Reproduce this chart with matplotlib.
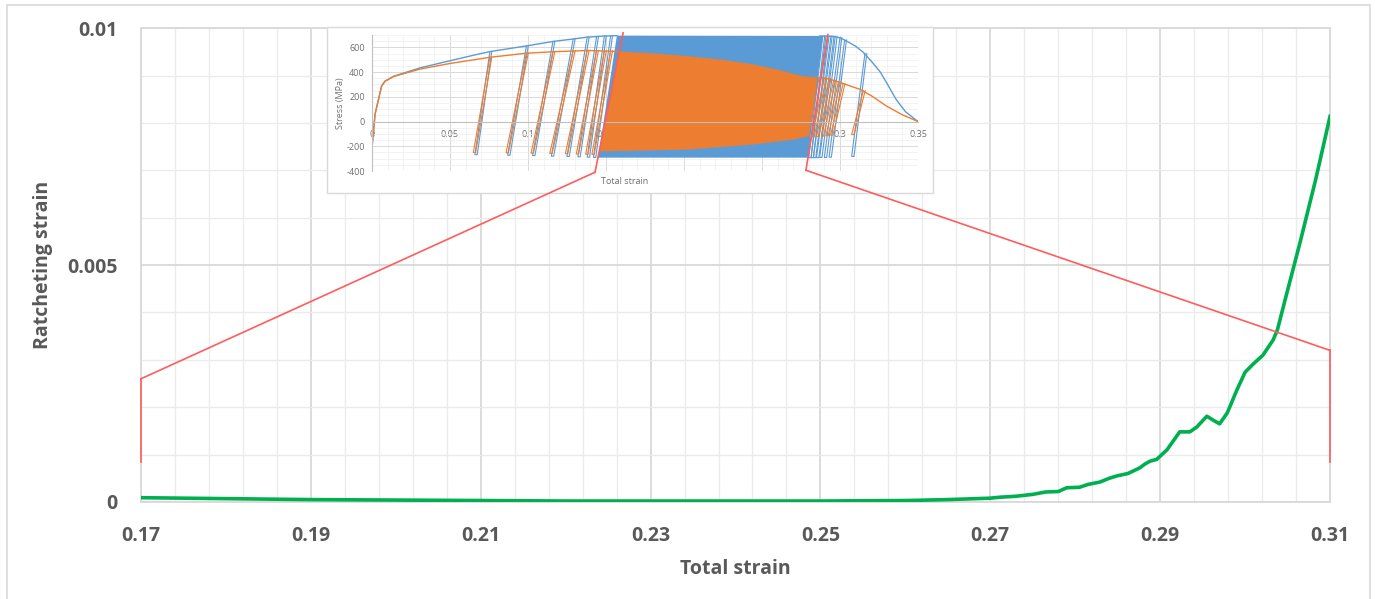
import numpy as np
import matplotlib.pyplot as plt
from matplotlib.patches import Rectangle, ConnectionPatch
from matplotlib.ticker import MultipleLocator, FuncFormatter

plt.rcParams['font.family'] = ['Open Sans', 'DejaVu Sans']

# main chart: ratcheting strain vs total strain
total_strain = [0.170, 0.180, 0.190, 0.200, 0.210, 0.220, 0.230, 0.240, 0.250,
                0.260, 0.265, 0.270, 0.2711, 0.2730, 0.2750, 0.2765, 0.2780,
                0.2790, 0.2805, 0.2815, 0.2829, 0.2840, 0.2849, 0.2862, 0.2876,
                0.2882, 0.2888, 0.2896, 0.2908, 0.2923, 0.2935, 0.2943, 0.2955,
                0.2963, 0.2970, 0.2979, 0.2990, 0.3000, 0.3010, 0.3021, 0.3033,
                0.3038, 0.3047, 0.3065, 0.3083, 0.3100]
ratchet_strain = [0.00009, 0.00007, 0.00005, 0.00004, 0.00003, 0.00002, 0.00002,
                  0.00002, 0.00002, 0.00003, 0.00005, 0.00008, 0.00010, 0.00012,
                  0.00016, 0.00021, 0.00022, 0.00030, 0.00031, 0.00037, 0.00042,
                  0.00050, 0.00055, 0.00060, 0.00072, 0.00080, 0.00086, 0.00090,
                  0.00110, 0.00148, 0.00148, 0.00158, 0.00181, 0.00172, 0.00165,
                  0.00188, 0.00235, 0.00274, 0.00292, 0.00310, 0.00342, 0.00363,
                  0.00426, 0.00550, 0.00680, 0.00814]
x_ticks = [0.17, 0.19, 0.21, 0.23, 0.25, 0.27, 0.29, 0.31]
y_ticks = [0, 0.005, 0.01]
y_tick_labels = ['0', '0.005', '0.01']

# inset: stress-strain response of the two specimens
blue_env_strain = [0, 0.002, 0.0062, 0.0083, 0.014, 0.031, 0.05, 0.069, 0.0756,
                   0.099, 0.116, 0.129, 0.138, 0.149, 0.157]
blue_env_stress = [-215, 60, 287, 326, 367, 435, 492, 548, 566, 612, 648, 668,
                   683, 692, 695]
orange_env_strain = [0, 0.002, 0.0062, 0.0083, 0.014, 0.031, 0.05, 0.069,
                     0.0756, 0.099, 0.116, 0.138, 0.158]
orange_env_stress = [-215, 60, 287, 326, 365, 425, 470, 507, 520, 553, 565,
                     575, 567]
blue_tail_strain = [0.287, 0.295, 0.300, 0.304, 0.310, 0.315, 0.320, 0.326,
                    0.331, 0.336, 0.342, 0.350]
blue_tail_stress = [692, 690, 678, 653, 610, 560, 490, 398, 290, 179, 80, 0]
orange_tail_strain = [0.287, 0.293, 0.300, 0.306, 0.313, 0.320, 0.330, 0.340,
                      0.350]
orange_tail_stress = [357, 345, 317, 290, 260, 210, 124, 55, 0]

blue_band_strain = [0.157, 0.289, 0.2795, 0.145]
blue_band_stress = [695, 692, -292, -292]
orange_band_strain = [0.158, 0.180, 0.202, 0.225, 0.244, 0.260, 0.276, 0.287,
                      0.280, 0.270, 0.244, 0.202, 0.146]
orange_band_stress = [567, 552, 530, 500, 463, 420, 368, 357, -119, -146, -186,
                      -227, -241]

blue_cyc_peak = [0.0756, 0.099, 0.116, 0.129, 0.138, 0.144, 0.149, 0.153,
                 0.289, 0.291, 0.293, 0.295, 0.297, 0.300, 0.303, 0.316]
blue_cyc_top = [566, 612, 648, 668, 683, 688, 692, 694,
                692, 692, 691, 690, 689, 678, 660, 550]
blue_cyc_valley = [0.066, 0.087, 0.103, 0.115, 0.125, 0.132, 0.138, 0.142,
                   0.2800, 0.2815, 0.283, 0.285, 0.287, 0.290, 0.293, 0.3075]
blue_cyc_bottom = [-268, -272, -275, -280, -282, -285, -288, -290,
                   -292, -292, -292, -292, -290, -290, -288, -282]
orange_cyc_peak = [0.0756, 0.099, 0.116, 0.129, 0.138, 0.144, 0.149, 0.153,
                   0.290, 0.293, 0.296, 0.299, 0.302, 0.315]
orange_cyc_top = [520, 553, 565, 570, 575, 575, 574, 572,
                  352, 345, 333, 320, 305, 250]
orange_cyc_valley = [0.065, 0.086, 0.102, 0.114, 0.124, 0.131, 0.137, 0.141,
                     0.2820, 0.2850, 0.2880, 0.2910, 0.2940, 0.3075]
orange_cyc_bottom = [-250, -252, -255, -258, -260, -262, -265, -266,
                     -125, -120, -118, -115, -110, -105]

# zoom box marking the main chart range inside the inset
zoom_main_left = [0.00085, 0.0026]
zoom_main_right = [0.00085, 0.0032]
zoom_inset_left = ([0.143, 0.161], [-410, 718])
zoom_inset_right = ([0.2782, 0.2923], [-394, 704])

grey = '#595959'
red = '#ff5c5c'
blue = '#5b9bd5'
orange = '#ed7d31'

fig = plt.figure(figsize=(13.75, 5.99), dpi=100)
fig.add_artist(Rectangle((0.0051, -0.02), 0.9913, 1.0117, transform=fig.transFigure,
                         facecolor='none', edgecolor='#d9d9d9', lw=1.2, zorder=0))

ax = fig.add_axes([0.1025, 0.1620, 0.8648, 0.7908])
ax.plot(total_strain, ratchet_strain, color='#00b050', lw=2.6, zorder=3)
ax.plot([0.17, 0.17], zoom_main_left, color=red, lw=1.2, clip_on=False, zorder=4)
ax.plot([0.31, 0.31], zoom_main_right, color=red, lw=1.2, clip_on=False, zorder=4)

ax.set_xlim(0.17, 0.31)
ax.set_ylim(0, 0.01)
ax.set_xticks(x_ticks)
ax.set_xticklabels(['%.2f' % t for t in x_ticks])
ax.set_xticks(np.arange(0.17, 0.3101, 0.004), minor=True)
ax.set_yticks(y_ticks)
ax.set_yticklabels(y_tick_labels)
ax.yaxis.set_minor_locator(MultipleLocator(0.001))
ax.grid(which='major', color='#d9d9d9', lw=1.3)
ax.grid(which='minor', color='#ebebeb', lw=1.0)
ax.set_axisbelow(True)
for s in ax.spines.values():
    s.set_color('#d9d9d9')
    s.set_linewidth(1.3)
ax.tick_params(which='both', length=0)
ax.tick_params(axis='y', pad=17, labelsize=14, labelcolor=grey)
ax.tick_params(axis='x', pad=17, labelsize=14, labelcolor=grey)
for lab in ax.get_xticklabels() + ax.get_yticklabels():
    lab.set_fontweight('bold')
ax.set_xlabel('Total strain', fontsize=14, fontweight='bold', color=grey)
ax.set_ylabel('Ratcheting strain', fontsize=14, fontweight='bold', color=grey)
ax.xaxis.set_label_coords(0.5, -0.12)
ax.yaxis.set_label_coords(-0.074, 0.5)

# inset picture
fig.add_artist(Rectangle((0.2378, 0.6778), 0.4407, 0.2771, transform=fig.transFigure,
                         facecolor='white', edgecolor='#d9d9d9', lw=1.0, zorder=2))
ax_in = fig.add_axes([0.2705, 0.7145, 0.3971, 0.2270], zorder=3)
ax_in.set_facecolor('white')
ax_in.fill(blue_band_strain, blue_band_stress, color=blue, lw=0)
ax_in.fill(orange_band_strain, orange_band_stress, color=orange, lw=0)
for p, t, v, b in zip(blue_cyc_peak, blue_cyc_top, blue_cyc_valley, blue_cyc_bottom):
    ax_in.plot([p, v, v + 0.0015, p + 0.0012], [t, b, b, t], color=blue, lw=0.8)
ax_in.plot(blue_env_strain, blue_env_stress, color=blue, lw=1.0)
ax_in.plot(blue_tail_strain, blue_tail_stress, color=blue, lw=1.0)
for p, t, v, b in zip(orange_cyc_peak, orange_cyc_top, orange_cyc_valley, orange_cyc_bottom):
    ax_in.plot([p, v, v + 0.0015, p + 0.0012], [t, b, b, t], color=orange, lw=0.8)
ax_in.plot(orange_env_strain, orange_env_stress, color=orange, lw=1.0)
ax_in.plot(orange_tail_strain, orange_tail_stress, color=orange, lw=1.0)
ax_in.plot(*zoom_inset_left, color=red, lw=1.2, clip_on=False, zorder=5)
ax_in.plot(*zoom_inset_right, color=red, lw=1.2, clip_on=False, zorder=5)

ax_in.set_xlim(0, 0.35)
ax_in.set_ylim(-400, 700)
ax_in.xaxis.set_major_locator(MultipleLocator(0.05))
ax_in.xaxis.set_minor_locator(MultipleLocator(0.01))
ax_in.yaxis.set_major_locator(MultipleLocator(200))
ax_in.yaxis.set_minor_locator(MultipleLocator(50))
ax_in.xaxis.set_major_formatter(FuncFormatter(lambda v, pos: '%g' % round(v, 3)))
ax_in.yaxis.set_major_formatter(FuncFormatter(lambda v, pos: '%g' % v))
ax_in.grid(which='major', color='#d9d9d9', lw=0.7)
ax_in.grid(which='minor', color='#efefef', lw=0.5)
ax_in.set_axisbelow(True)
ax_in.spines['bottom'].set_position(('data', 0))
ax_in.spines['bottom'].set_color('#bfbfbf')
ax_in.spines['left'].set_color('#bfbfbf')
ax_in.spines['top'].set_visible(False)
ax_in.spines['right'].set_visible(False)
ax_in.tick_params(which='both', length=0, labelsize=6.5, labelcolor='#6f6f6f')
ax_in.tick_params(axis='y', pad=5)
ax_in.tick_params(axis='x', pad=6)
ax_in.set_xlabel('Total strain', fontsize=6.5, color='#6f6f6f')
ax_in.set_ylabel('Stress (MPa)', fontsize=6.5, color='#6f6f6f')
ax_in.xaxis.set_label_coords(0.463, -0.045)
ax_in.yaxis.set_label_coords(-0.05, 0.5)

# connectors from the main chart to the inset
for xa, ya, xb, yb in [(0.17, 0.0026, 0.143, -410), (0.31, 0.0032, 0.2782, -394)]:
    con = ConnectionPatch(xyA=(xa, ya), coordsA=ax.transData,
                          xyB=(xb, yb), coordsB=ax_in.transData,
                          color=red, lw=1.2, zorder=4)
    fig.add_artist(con)

plt.savefig('out.png', dpi=100)
